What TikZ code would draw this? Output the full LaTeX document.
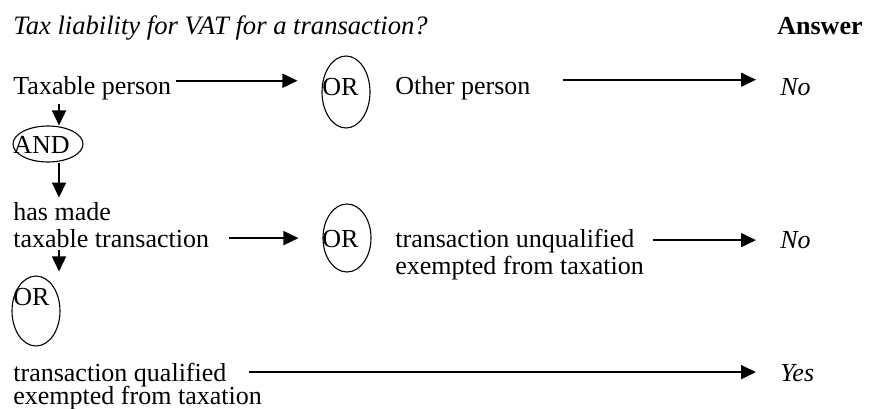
\documentclass[tikz,border=0pt]{standalone}
\usepackage{fontspec}
\setmainfont{Liberation Serif}
\usetikzlibrary{arrows.meta,shapes.geometric}
\begin{document}
\begin{tikzpicture}[x=0.5pt,y=-0.5pt,
  txt/.style={anchor=base west,inner sep=0pt,font=\fontsize{13}{15}\selectfont},
  gate/.style={draw,ellipse,line width=0.55pt,inner sep=0pt},
  arr/.style={line width=0.85pt,-{Triangle[length=7.5pt,width=7pt]}}]
\useasboundingbox (0,0) rectangle (869,408);

% heading
\node[txt,font=\fontsize{13.3}{15}\selectfont] (title) at (13,34) {\itshape Tax liability for VAT for a transaction?};
\node[txt,anchor=base east] (ans) at (863,34) {\bfseries Answer};

% first row: who acts
\node[txt] (tp) at (13,94) {Taxable person};
\node[gate,minimum width=24pt,minimum height=36pt] (or1) at (346,92) {};
\node[txt] (or1t) at (322,95) {OR};
\node[txt] (op) at (395,94) {Other person};
\node[txt] (no1) at (780,95) {\itshape No};

% conjunction
\node[gate,minimum width=35pt,minimum height=18pt] (and) at (48,144) {};
\node[txt] (andt) at (13,153) {AND};

% second row: the transaction
\node[txt] (hm) at (13,220) {has made};
\node[txt] (tt) at (13,247) {taxable transaction};
\node[gate,minimum width=24pt,minimum height=34pt] (or2) at (347,238) {};
\node[txt] (or2t) at (322,247) {OR};
\node[txt] (tu) at (395,247) {transaction unqualified};
\node[txt] (tu2) at (395,274) {exempted from taxation};
\node[txt] (no2) at (780,248) {\itshape No};

% third row: qualified exemption
\node[gate,minimum width=24pt,minimum height=35pt] (or3) at (36,311) {};
\node[txt] (or3t) at (13,305) {OR};
\node[txt] (tq) at (13,381) {transaction qualified};
\node[txt] (tq2) at (13,404) {exempted from taxation};
\node[txt] (yes) at (780,381) {\itshape Yes};

% start points of the connectors
\coordinate (h1) at ([xshift=2pt,yshift=3.5pt]tp.east);
\coordinate (h2) at ([xshift=16pt,yshift=4pt]op.east);
\coordinate (h3) at ([xshift=10pt,yshift=0pt]tt.east);
\coordinate (h4) at ([xshift=9pt,yshift=0.25pt]tu.east);
\coordinate (h5) at ([xshift=11pt,yshift=1.25pt]tq.east);
\coordinate (v1) at ([xshift=23pt,yshift=-2pt]tp.south west);
\coordinate (v2) at ([xshift=23pt]tp.south west |- and.south);
\coordinate (v3) at ([xshift=23pt,yshift=-1pt]tt.south west);

% horizontal arrows
\draw[arr,shorten >=12pt] (h1) -- (h1 -| or1.west);
\draw[arr,shorten >=12pt] (h2) -- (h2 -| no1.west);
\draw[arr,shorten >=12pt] (h3) -- (h3 -| or2.west);
\draw[arr,shorten >=12pt] (h4) -- (h4 -| no2.west);
\draw[arr,shorten >=12pt] (h5) -- (h5 -| yes.west);

% vertical arrows
\draw[arr] (v1) -- (v1 |- and.north);
\draw[arr,shorten >=2pt] (v2) -- (v2 |- hm.north);
\draw[arr,shorten >=2pt] (v3) -- (v3 |- or3.north);
\end{tikzpicture}
\end{document}
